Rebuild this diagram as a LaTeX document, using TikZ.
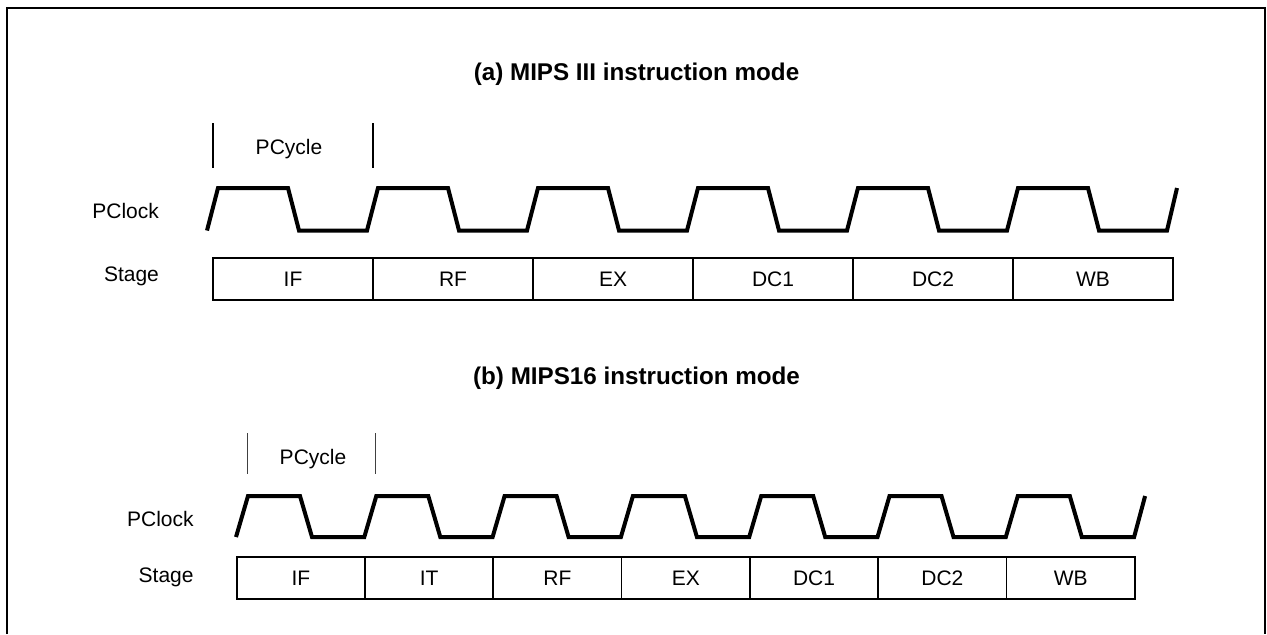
\documentclass[tikz,border=0pt]{standalone}
\usepackage{fontspec}
\setmainfont{Liberation Sans}
\usepackage{tikz}

\begin{document}
\begin{tikzpicture}[x=0.5pt, y=-0.5pt,
    txt/.style={font=\fontsize{10.5}{12}\selectfont, inner sep=0pt},
    ttl/.style={font=\fontsize{12.1}{14}\selectfont\bfseries, inner sep=0pt, anchor=base},
    cell/.style={draw, line width=0.85pt, minimum height=21pt, inner sep=0pt, font=\fontsize{10.5}{12}\selectfont},
    clock/.style={line width=2pt, line join=miter},
    tick/.style={line width=0.65pt}
]
    \useasboundingbox (0,0) rectangle (1267,634);

    % Frame
    \draw[line width=1pt] (7,634) -- (7,8) -- (1265,8) -- (1265,634);

    % (a) MIPS III
    \node[ttl] (titlea) at (636.5,80) {(a) MIPS III instruction mode};
    \draw[tick] (213,123) -- (213,168);
    \draw[tick] (373,123) -- (373,168);
    \node[txt, anchor=base] (pcya) at (289,154.3) {PCycle};
    \node[txt, anchor=base east] (clka) at (159.3,218.3) {PClock};
    \node[txt, anchor=base east] (stga) at (159.3,281.7) {Stage};

    \draw[clock] (207,230.5) \foreach \i in {0,...,5} {
        -- ++(11,-42.5) -- ++(70,0) -- ++(11,42.5) -- ++(68,0) } -- ++(10,-42.5);

    \foreach \lbl [count=\i from 0] in {IF,RF,EX,DC1,DC2,WB}
        \node[cell, minimum width=80pt] (sa\i) at (293+160*\i,279.2) {\lbl};

    % (b) MIPS16
    \node[ttl] (titleb) at (636.5,384) {(b) MIPS16 instruction mode};
    \draw[tick, black!75] (247.7,433) -- (247.7,474);
    \draw[tick, black!75] (375.7,433) -- (375.7,474);
    \node[txt, anchor=base] (pcyb) at (313,464.3) {PCycle};
    \node[txt, anchor=base east] (clkb) at (194,526) {PClock};
    \node[txt, anchor=base east] (stgb) at (194,582.7) {Stage};

    \draw[clock] (236,537) \foreach \i in {0,...,6} {
        -- ++(12,-41) -- ++(52,0) -- ++(12,41) -- ++(52.3,0) } -- ++(11,-41);

    \foreach \lbl [count=\i from 0] in {IF,IT,RF,EX,DC1,DC2,WB}
        \node[cell, minimum width=64.15pt] (sb\i) at (300.85+128.3*\i,577.85) {\lbl};

\end{tikzpicture}
\end{document}
